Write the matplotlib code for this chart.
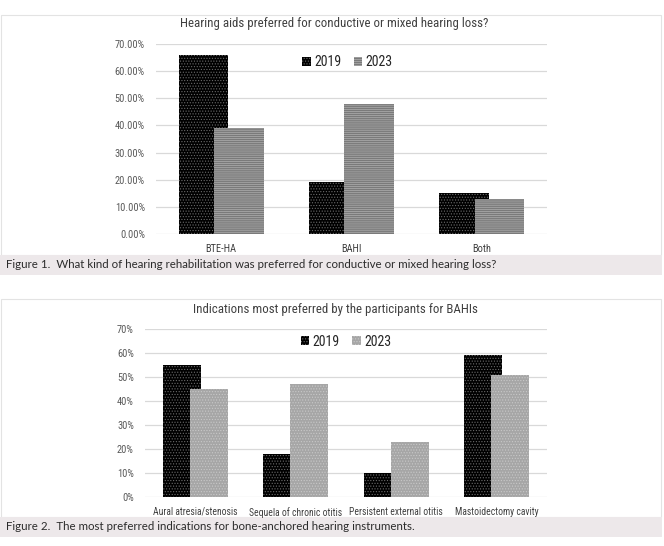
import matplotlib
matplotlib.use("Agg")
import matplotlib.pyplot as plt
import numpy as np
from matplotlib.patches import Rectangle, Patch
from matplotlib import font_manager as fm

# ---------------- data ----------------
years = ["2019", "2023"]

cats1 = ["BTE-HA", "BAHI", "Both"]
vals1_2019 = [66, 19, 15]
vals1_2023 = [39, 48, 13]
yticks1 = [0, 10, 20, 30, 40, 50, 60, 70]
title1 = "Hearing aids preferred for conductive or mixed hearing loss?"
caption1 = "Figure 1.  What kind of hearing rehabilitation was preferred for conductive or mixed hearing loss?"

cats2 = ["Aural atresia/stenosis", "Sequela of chronic otitis",
         "Persistent external otitis", "Mastoidectomy cavity"]
vals2_2019 = [55, 18, 10, 59]
vals2_2023 = [45, 47, 23, 51]
yticks2 = [0, 10, 20, 30, 40, 50, 60, 70]
title2 = "Indications most preferred by the participants for BAHIs"
caption2 = "Figure 2.  The most preferred indications for bone-anchored hearing instruments."

# ---------------- fonts ----------------
names = {f.name for f in fm.fontManager.ttflist}


def pick(*cands):
    for c in cands:
        if c in names:
            return c
    return "DejaVu Sans"


chart_font = pick("Roboto Condensed", "Open Sans Condensed", "Carlito")
cap_font = pick("Lato", "DejaVu Sans")

plt.rcParams["hatch.linewidth"] = 0.5

W, H = 664, 546
fig = plt.figure(figsize=(W / 100, H / 100), dpi=100)
fig.patch.set_facecolor("white")


def fx(x):
    return x / W


def fy(y):
    return 1 - y / H


def panel(y0, y1, cy0, cy1):
    fig.patches.append(Rectangle((fx(1), fy(y1)), fx(660), (y1 - y0) / H,
                                 transform=fig.transFigure, facecolor="white",
                                 edgecolor="#e3e3e3", lw=0.8, zorder=-10))
    fig.patches.append(Rectangle((0, fy(cy1)), fx(662), (cy1 - cy0) / H,
                                 transform=fig.transFigure, facecolor="#ede8ea",
                                 edgecolor="none", zorder=-10))


panel(15, 255, 255, 275)
panel(299, 517, 517, 537)

gray_txt = "#595959"


def make_axes(x0, x1, ytop, ybot):
    return fig.add_axes([fx(x0), fy(ybot), (x1 - x0) / W, (ybot - ytop) / H])


def draw(ax, cats, v19, v23, yt, fmt, c23, h23, hc23, legxy, ytick_fs, xtick_fs, fs_leg):
    x = np.arange(len(cats))
    bw = 0.38
    off = 0.27
    h19, hc19 = "......", "#6a6a6a"
    ax.bar(x - off / 2, v19, width=bw, color="black", edgecolor=hc19,
           hatch=h19, linewidth=0, zorder=2)
    ax.bar(x + off / 2, v23, width=bw, color=c23, edgecolor=hc23,
           hatch=h23, linewidth=0, zorder=3)
    ax.set_xlim(-0.5, len(cats) - 0.5)
    ax.set_ylim(0, 70)
    ax.set_yticks(yt)
    ax.set_yticklabels([fmt(v) for v in yt], fontsize=ytick_fs, color=gray_txt,
                       family=chart_font)
    ax.set_xticks(x)
    ax.set_xticklabels(cats, fontsize=xtick_fs, color="#404040", family=chart_font)
    ax.tick_params(length=0, pad=7)
    ax.tick_params(axis="y", pad=8)
    ax.grid(axis="y", color="#d9d9d9", lw=0.9, zorder=0)
    ax.set_axisbelow(True)
    for s in ax.spines.values():
        s.set_visible(False)
    ax.patch.set_alpha(0)
    handles = [Patch(facecolor="black", edgecolor=hc19, hatch=h19, lw=0),
               Patch(facecolor=c23, edgecolor=hc23, hatch=h23, lw=0)]
    ax.legend(handles, years, loc="center", bbox_to_anchor=legxy, ncol=2,
              frameon=False, handlelength=0.6, handleheight=0.6,
              handletextpad=0.25, columnspacing=0.9,
              prop={"family": chart_font, "size": fs_leg},
              labelcolor="#262626")


# top chart
ax1 = make_axes(156, 547, 44, 234)
draw(ax1, cats1, vals1_2019, vals1_2023, yticks1, lambda v: f"{v:.2f}%",
     "#7a7a7a", "--------", "#b0b0b0", (0.49, 0.905), 7.5, 7.5, 10)
fig.text(fx(334), fy(23), title1, ha="center", va="center", fontsize=9.3,
         color="#404040", family=chart_font)
fig.text(fx(6), fy(265), caption1, ha="left", va="center", fontsize=8.3,
         color="#2b2b2b", family=cap_font)

# bottom chart
ax2 = make_axes(145, 547, 329, 497)
draw(ax2, cats2, vals2_2019, vals2_2023, yticks2, lambda v: f"{v}%",
     "#a6a6a6", "......", "#c8c8c8", (0.5, 0.925), 7.5, 6.9, 10)
fig.text(fx(335), fy(309), title2, ha="center", va="center", fontsize=9.3,
         color="#404040", family=chart_font)
fig.text(fx(6), fy(527), caption2, ha="left", va="center", fontsize=8.3,
         color="#2b2b2b", family=cap_font)

fig.savefig("out.png", dpi=100)
